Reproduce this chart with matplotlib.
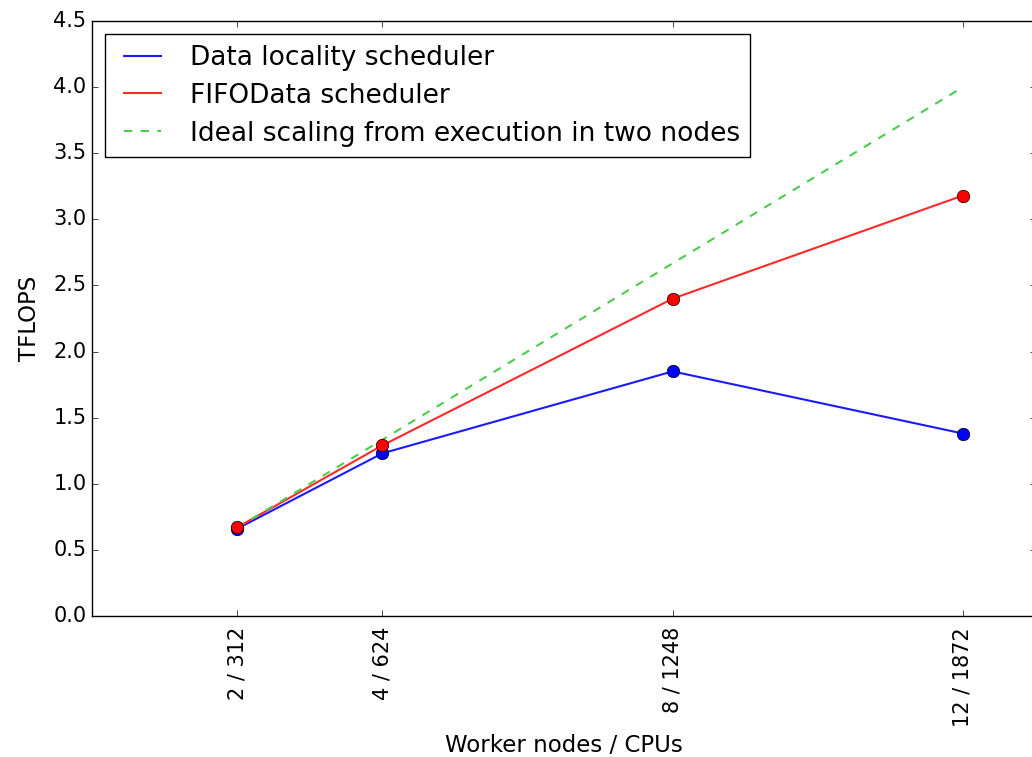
import matplotlib
matplotlib.use('Agg')
import matplotlib.pyplot as plt

# worker nodes and their CPU counts
nodes = [2, 4, 8, 12]
cpus = [312, 624, 1248, 1872]
tick_labels = ['%d / %d' % (n, c) for n, c in zip(nodes, cpus)]

locality = [0.66, 1.23, 1.85, 1.38]
fifodata = [0.67, 1.29, 2.40, 3.18]
ideal = [0.667, 1.333, 2.667, 4.0]

plt.style.use('classic')
plt.rcParams['font.family'] = ['DejaVu Sans']

fig = plt.figure(figsize=(10.32, 7.57), dpi=100, facecolor='white')
ax = fig.add_axes([92 / 1032, 141 / 757, 943.5 / 1032, 595 / 757])

ax.plot(nodes, locality, color='#1a1aff', lw=1.5, label='Data locality scheduler')
ax.plot(nodes, fifodata, color='#ff2a2a', lw=1.5, label='FIFOData scheduler')
ax.plot(nodes, ideal, color='#4ccc4c', lw=1.5, ls='--',
        label='Ideal scaling from execution in two nodes')
ax.plot(nodes, locality, 'o', color='b', ms=9, mec='k', mew=0.5)
ax.plot(nodes, fifodata, 'o', color='r', ms=9, mec='k', mew=0.5)

ax.set_xlim(0, 13)
ax.set_ylim(0, 4.5)
ax.set_xticks(nodes)
ax.set_xticklabels(tick_labels, rotation=90)
ax.tick_params(labelsize=15)
ax.tick_params(axis='x', pad=8)
ax.set_xlabel('Worker nodes / CPUs', fontsize=16.5, labelpad=5)
ax.set_ylabel('TFLOPS', fontsize=16.5, labelpad=9)

leg = ax.legend(loc='upper left', fontsize=19, handlelength=2.0,
                labelspacing=0.45)
leg.get_frame().set_linewidth(1.0)

fig.savefig('out.png', dpi=100, facecolor='white')
